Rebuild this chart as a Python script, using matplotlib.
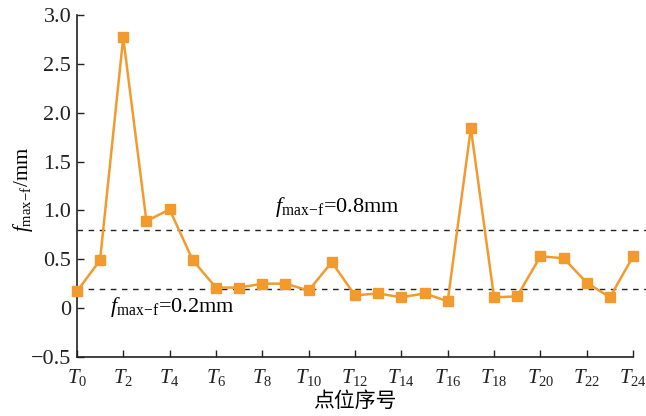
import matplotlib
matplotlib.use("Agg")
import matplotlib.pyplot as plt
from matplotlib.ticker import FuncFormatter

plt.rcParams['font.family'] = ['Liberation Serif', 'Noto Sans CJK SC']
plt.rcParams['mathtext.fontset'] = 'custom'
plt.rcParams['mathtext.rm'] = 'Liberation Serif'
plt.rcParams['mathtext.it'] = 'Liberation Serif:italic'

points = list(range(25))
values = [0.17, 0.49, 2.77, 0.89, 1.01, 0.49, 0.21, 0.21, 0.25, 0.25, 0.18, 0.47,
          0.13, 0.15, 0.11, 0.15, 0.07, 1.84, 0.11, 0.12, 0.53, 0.51, 0.26, 0.11, 0.53]
tick_pos = list(range(0, 25, 2))
tick_labels = [f"$T_{{{i}}}$" for i in tick_pos]
limits = [0.8, 0.2]

fig = plt.figure(figsize=(6.46, 4.16), dpi=100)
ax = fig.add_axes([0.119, 0.142, 0.861, 0.822])
color = '#F39A2E'
ax.plot(points, values, color=color, lw=1.8, marker='s', ms=7.5, clip_on=False, zorder=3)
for lim in limits:
    ax.plot([0, 24.6], [lim, lim], ls=(0, (4, 4)), color='#222222', lw=1.0, clip_on=False)

ax.set_xlim(0, 24)
ax.set_ylim(-0.5, 3.0)
ax.set_xticks(tick_pos)
ax.set_xticklabels(tick_labels, fontsize=15)
ax.set_yticks([-0.5, 0, 0.5, 1.0, 1.5, 2.0, 2.5, 3.0])
def fmt(v, p):
    if abs(v) < 1e-9:
        return "0"
    return f"{v:.1f}".replace('-', '\u2212')
ax.yaxis.set_major_formatter(FuncFormatter(fmt))
ax.tick_params(axis='both', direction='in', length=5, width=1, colors='#222222')
ax.tick_params(axis='y', labelsize=16, pad=4)
ax.tick_params(axis='x', pad=7)
for s in ['top', 'right']:
    ax.spines[s].set_visible(False)
for s in ['left', 'bottom']:
    ax.spines[s].set_linewidth(1.2)
    ax.spines[s].set_color('#222222')

ax.set_xlabel('点位序号', fontsize=15, labelpad=2, family=['Noto Sans CJK SC'])
ax.set_ylabel(r'$f_{\mathrm{max\!-\!f}}$/mm', fontsize=15)
ax.yaxis.set_label_coords(-0.075, 0.49)

ax.text(8.55, 1.03, r'$f_{\mathrm{max\!-\!f}}$=0.8mm', fontsize=16, va='center', ha='left')
ax.text(1.42, 0.01, r'$f_{\mathrm{max\!-\!f}}$=0.2mm', fontsize=16, va='center', ha='left')

fig.savefig('out.png', dpi=100)
